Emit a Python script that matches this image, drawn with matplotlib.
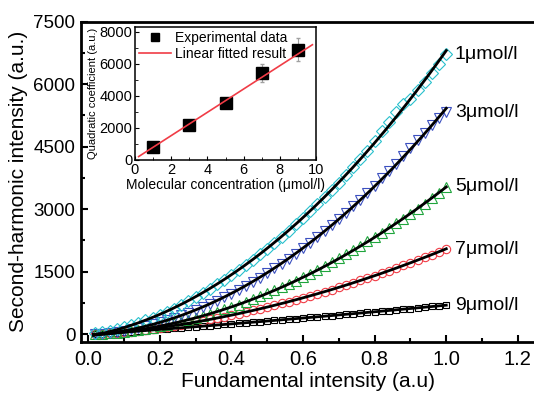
import numpy as np
import matplotlib
matplotlib.use('Agg')
import matplotlib.pyplot as plt
from matplotlib.ticker import MultipleLocator

plt.rcParams['font.family'] = ['Liberation Sans', 'DejaVu Sans']

# fundamental intensity (a.u.)
x_fund = [0.02, 0.04, 0.06, 0.08, 0.10, 0.12, 0.14, 0.16, 0.18, 0.20,
          0.22, 0.24, 0.26, 0.28, 0.30, 0.32, 0.34, 0.36, 0.38, 0.40,
          0.42, 0.44, 0.46, 0.48, 0.50, 0.52, 0.54, 0.56, 0.58, 0.60,
          0.62, 0.64, 0.66, 0.68, 0.70, 0.72, 0.74, 0.76, 0.78, 0.80,
          0.82, 0.84, 0.86, 0.88, 0.90, 0.92, 0.94, 0.96, 0.98, 1.00]

# second-harmonic intensity for each concentration
shg_1 = [20, 45, 80, 120, 165, 215, 270, 330, 390, 455,
         530, 610, 700, 790, 890, 990, 1095, 1200, 1310, 1425,
         1540, 1665, 1790, 1920, 2055, 2195, 2340, 2485, 2635, 2790,
         2950, 3115, 3285, 3460, 3640, 3825, 4010, 4200, 4400, 4640,
         4880, 5100, 5330, 5520, 5650, 5860, 6060, 6270, 6480, 6720]
shg_3 = [5, 15, 30, 50, 80, 115, 150, 190, 235, 285,
         335, 390, 450, 515, 580, 650, 725, 805, 890, 975,
         1065, 1160, 1260, 1360, 1470, 1580, 1695, 1815, 1935, 2065,
         2195, 2330, 2470, 2615, 2760, 2915, 3070, 3230, 3395, 3565,
         3740, 3915, 4095, 4280, 4460, 4650, 4840, 5020, 5180, 5330]
shg_5 = [5, 12, 22, 36, 55, 78, 102, 128, 158, 190,
         225, 262, 302, 345, 390, 438, 488, 540, 595, 652,
         712, 775, 840, 908, 978, 1050, 1126, 1203, 1284, 1367,
         1452, 1540, 1632, 1725, 1822, 1920, 2020, 2122, 2226, 2332,
         2440, 2548, 2660, 2772, 2888, 3008, 3132, 3262, 3400, 3545]
shg_7 = [0, 8, 18, 30, 45, 62, 82, 104, 128, 152,
         178, 205, 233, 262, 292, 323, 355, 388, 422, 458,
         495, 532, 570, 610, 652, 694, 738, 782, 828, 875,
         922, 970, 1020, 1072, 1124, 1178, 1234, 1290, 1348, 1406,
         1466, 1526, 1588, 1650, 1714, 1778, 1844, 1910, 1978, 2045]
shg_9 = [5, 15, 26, 38, 50, 62, 75, 88, 101, 114,
         127, 140, 153, 166, 180, 193, 207, 220, 234, 248,
         262, 276, 290, 304, 318, 332, 346, 360, 374, 389,
         403, 418, 432, 447, 462, 477, 492, 507, 522, 537,
         552, 568, 584, 600, 616, 632, 649, 666, 683, 700]

series = [shg_9, shg_7, shg_5, shg_3, shg_1]
labels = ['9\u03bcmol/l', '7\u03bcmol/l', '5\u03bcmol/l', '3\u03bcmol/l', '1\u03bcmol/l']
colors = ['black', '#f03c46', '#1fa53c', '#3c50c0', '#28c0cc']
markers = ['s', 'o', '^', 'v', 'D']
msizes = [4.5, 6.0, 6.5, 6.5, 6.5]

# inset: quadratic coefficient vs concentration
conc = [1, 3, 5, 7, 9]
quad_coef = [812, 2187, 3562, 5437, 6875]
quad_err = [100, 150, 250, 560, 720]
fit_slope = 727
fit_intercept = 66
fit_range = [0.2, 9.8]

fig = plt.figure(figsize=(5.34, 3.94), dpi=100)
ax = fig.add_axes([0.1517, 0.1327, 0.8483, 0.8122])

x = np.array(x_fund)
for y, c, m, ms in zip(series, colors, markers, msizes):
    ax.plot(x, y, linestyle='none', marker=m, ms=ms, mfc='none', mec=c, mew=0.8)

xf = np.linspace(0.015, 1.0, 200)
for y, lbl in zip(series, labels):
    p = np.polyfit(x, y, 2)
    ax.plot(xf, np.polyval(p, xf), color='black', lw=2.0, zorder=5)
    ax.text(1.024, y[-1], lbl, fontsize=14, va='center', ha='left')

ax.set_xlim(-0.02, 1.245)
ax.set_ylim(-180, 7500)
ax.xaxis.set_major_locator(MultipleLocator(0.2))
ax.xaxis.set_minor_locator(MultipleLocator(0.1))
ax.yaxis.set_major_locator(MultipleLocator(1500))
ax.yaxis.set_minor_locator(MultipleLocator(750))
ax.xaxis.set_major_formatter(plt.FuncFormatter(lambda v, p: '%.1f' % v))
ax.tick_params(which='both', direction='in', width=1.5)
ax.tick_params(which='major', length=5)
ax.tick_params(which='minor', length=3)
ax.tick_params(axis='x', labelsize=14.5, pad=6)
ax.tick_params(axis='y', labelsize=13.5, pad=4)
for s in ['left', 'bottom', 'top']:
    ax.spines[s].set_linewidth(2)
ax.spines['right'].set_visible(False)
ax.set_xlabel('Fundamental intensity (a.u)', fontsize=15, labelpad=2)
ax.set_ylabel('Second-harmonic intensity (a.u.)', fontsize=15, labelpad=4)

# inset
ins = fig.add_axes([0.2528, 0.594, 0.339, 0.3376])
ins.set_facecolor('white')
ins.errorbar(conc, quad_coef, yerr=quad_err, fmt='none', ecolor='#a0a0a0',
             elinewidth=0.8, capsize=1.5, zorder=2)
ins.plot(conc, quad_coef, 's', color='black', ms=8, label='Experimental data', zorder=3)
xl = np.array(fit_range)
ins.plot(xl, fit_slope * xl + fit_intercept, color='#f03c46', lw=1.2,
         label='Linear fitted result', zorder=4)
ins.set_xlim(0, 10)
ins.set_ylim(0, 8300)
ins.xaxis.set_major_locator(MultipleLocator(2))
ins.xaxis.set_minor_locator(MultipleLocator(1))
ins.yaxis.set_major_locator(MultipleLocator(2000))
ins.yaxis.set_minor_locator(MultipleLocator(1000))
ins.tick_params(which='both', direction='in', labelsize=10.5, pad=2)
ins.tick_params(which='major', length=3)
ins.tick_params(which='minor', length=2)
for s in ins.spines.values():
    s.set_linewidth(1.1)
ins.set_xlabel('Molecular concentration (\u03bcmol/l)', fontsize=10, labelpad=1)
ins.set_ylabel('Quadratic coefficient (a.u.)', fontsize=8, labelpad=1)
ins.legend(loc='upper left', frameon=False, fontsize=10, handlelength=2.3,
           handletextpad=0.3, labelspacing=0.15, borderpad=0.2,
           borderaxespad=0.1, markerscale=0.7)

fig.savefig('out.png', dpi=100)
